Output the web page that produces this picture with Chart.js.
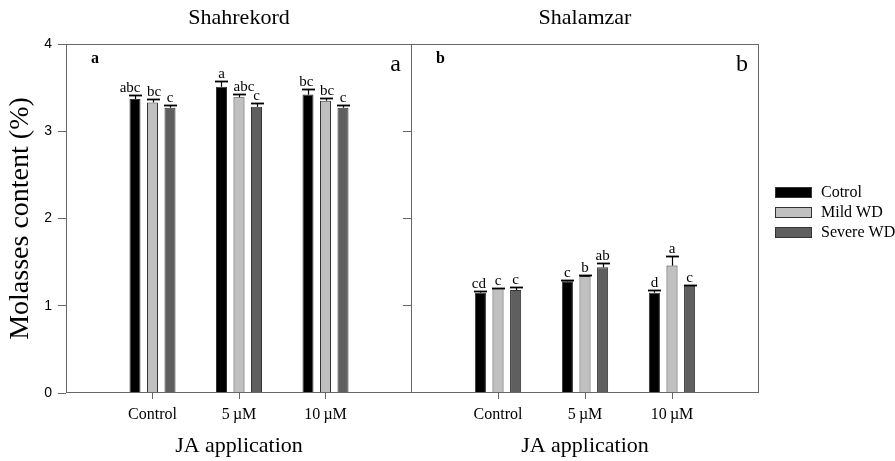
<!DOCTYPE html>
<html>
<head>
<meta charset="utf-8">
<script src="https://cdn.jsdelivr.net/npm/chart.js@4/dist/chart.umd.min.js"></script>
<style>
  html, body { margin: 0; padding: 0; background: #ffffff; }
  #wrap { position: relative; width: 895px; height: 461px; overflow: hidden; background: #ffffff; }
  #leftChart { position: absolute; left: 0; top: 0; }
  #rightChart { position: absolute; left: 399px; top: 0; }
</style>
</head>
<body>
<div id="wrap">
  <canvas id="leftChart" width="412" height="461"></canvas>
  <canvas id="rightChart" width="496" height="461"></canvas>
</div>
<script>
// Treatments on the x axis and the three water-deficit series
const treatments = ['Control', '5\u2009\u00b5M', '10\u2009\u00b5M'];
const seriesNames = ['Cotrol', 'Mild WD', 'Severe WD'];
const seriesColors = ['#000000', '#c0c0c0', '#5f5f5f'];
const yTickValues = [0, 1, 2, 3, 4];

// Shahrekord: mean molasses content (%) and standard error
const shahrekordCotrol = [3.37, 3.51, 3.42];
const shahrekordMild = [3.33, 3.39, 3.35];
const shahrekordSevere = [3.27, 3.28, 3.27];
const shahrekordCotrolSE = [0.04, 0.07, 0.06];
const shahrekordMildSE = [0.04, 0.04, 0.03];
const shahrekordSevereSE = [0.03, 0.04, 0.03];
const shahrekordCotrolLetters = ['abc', 'a', 'bc'];
const shahrekordMildLetters = ['bc', 'abc', 'bc'];
const shahrekordSevereLetters = ['c', 'c', 'c'];

// Shalamzar: mean molasses content (%) and standard error
const shalamzarCotrol = [1.15, 1.28, 1.15];
const shalamzarMild = [1.20, 1.34, 1.46];
const shalamzarSevere = [1.18, 1.44, 1.23];
const shalamzarCotrolSE = [0.02, 0.02, 0.03];
const shalamzarMildSE = [0.005, 0.015, 0.11];
const shalamzarSevereSE = [0.035, 0.045, 0.012];
const shalamzarCotrolLetters = ['cd', 'c', 'd'];
const shalamzarMildLetters = ['c', 'b', 'a'];
const shalamzarSevereLetters = ['c', 'ab', 'c'];

const SERIF = '"Liberation Serif", "Times New Roman", serif';
const SANS = '"Liberation Sans", Arial, sans-serif';
const AXIS_GRAY = '#666666';

Chart.defaults.font.family = SERIF;
Chart.defaults.color = '#000000';

// Blank slots at both ends place the three groups at 1/4, 1/2 and 3/4 of the panel
const pad = arr => [null, ...arr, null];
const axisLabels = pad(treatments).map(v => v === null ? '' : v);

function makeDatasets(values, errors, letters) {
  return values.map((vals, i) => ({
    label: seriesNames[i],
    data: pad(vals),
    err: pad(errors[i]),
    letters: pad(letters[i]),
    backgroundColor: seriesColors[i],
    borderColor: '#333333',
    borderWidth: 1,
    categoryPercentage: 0.607,
    barPercentage: 0.63
  }));
}

// Error whiskers (upward) with significance letters above them.
// Letters wider than their bar hang off the outer edge so neighbours don't collide.
const errorBarPlugin = {
  id: 'errorBars',
  afterDatasetsDraw(chart) {
    const ctx = chart.ctx;
    const yScale = chart.scales.y;
    const nSets = chart.data.datasets.length;
    chart.data.datasets.forEach((ds, di) => {
      const meta = chart.getDatasetMeta(di);
      meta.data.forEach((bar, i) => {
        const v = ds.data[i];
        if (v === null || v === undefined) return;
        const yTop = Math.round(yScale.getPixelForValue(v + ds.err[i])) + 0.5;
        const x = Math.round(bar.x) + 0.5;
        ctx.save();
        ctx.strokeStyle = '#000000';
        ctx.lineWidth = 1.2;
        ctx.beginPath();
        ctx.moveTo(x, bar.y);
        ctx.lineTo(x, yTop);
        ctx.stroke();
        ctx.lineWidth = 1.8;
        ctx.beginPath();
        ctx.moveTo(x - 6.5, yTop);
        ctx.lineTo(x + 6.5, yTop);
        ctx.stroke();

        ctx.font = '15px ' + SERIF;
        ctx.fillStyle = '#000000';
        ctx.textBaseline = 'alphabetic';
        const text = ds.letters[i];
        const w = ctx.measureText(text).width;
        const half = bar.width / 2;
        let tx = bar.x;
        ctx.textAlign = 'center';
        if (w > bar.width && di === 0) {
          ctx.textAlign = 'right';
          tx = bar.x + half;
        } else if (w > bar.width && di > 0 && di < nSets - 1) {
          ctx.textAlign = 'left';
          tx = bar.x - half;
        }
        ctx.fillText(text, tx, yTop - 4);
        ctx.restore();
      });
    });
  }
};

// Panel frame and the panel tags
const framePlugin = {
  id: 'panelFrame',
  afterDraw(chart, args, opts) {
    const ctx = chart.ctx;
    const { left, top, right, bottom } = chart.chartArea;
    ctx.save();
    ctx.strokeStyle = AXIS_GRAY;
    ctx.lineWidth = 1;
    ctx.strokeRect(left + 0.5, top + 0.5, right - left - 1, bottom - top - 1);
    ctx.fillStyle = '#000000';
    ctx.textBaseline = 'middle';
    ctx.font = 'bold 16px ' + SERIF;
    ctx.textAlign = 'left';
    ctx.fillText(opts.tag, left + 25, top + 15);
    ctx.font = '24px ' + SERIF;
    ctx.textAlign = 'right';
    ctx.fillText(opts.tag, right - 11, top + 21);
    ctx.restore();
  }
};

// Series key beside the right panel
const keyPlugin = {
  id: 'seriesKey',
  afterDraw(chart, args, opts) {
    if (!opts.show) return;
    const ctx = chart.ctx;
    ctx.save();
    chart.data.datasets.forEach((ds, i) => {
      const y = opts.y + i * 20;
      ctx.fillStyle = ds.backgroundColor;
      ctx.fillRect(opts.x, y, 37, 11);
      ctx.strokeStyle = '#333333';
      ctx.lineWidth = 1;
      ctx.strokeRect(opts.x + 0.5, y + 0.5, 36, 10);
      ctx.fillStyle = '#000000';
      ctx.font = '16px ' + SERIF;
      ctx.textAlign = 'left';
      ctx.textBaseline = 'middle';
      ctx.fillText(ds.label, opts.x + 46, y + 5.5);
    });
    ctx.restore();
  }
};

function panelConfig(title, datasets, tag, isLeft, paddingRight, key) {
  return {
    type: 'bar',
    data: { labels: axisLabels, datasets },
    plugins: [errorBarPlugin, framePlugin, keyPlugin],
    options: {
      responsive: false,
      animation: false,
      events: [],
      layout: { padding: { left: 0, right: paddingRight, top: 0, bottom: 0 } },
      plugins: {
        legend: { display: false },
        tooltip: { enabled: false },
        title: {
          display: true,
          text: title,
          fullSize: false,
          color: '#000000',
          font: { family: SERIF, size: 22, weight: 'normal', lineHeight: 1.2 },
          padding: { top: 5, bottom: 12.6 }
        },
        panelFrame: { tag },
        seriesKey: key
      },
      scales: {
        x: {
          type: 'category',
          offset: false,
          grid: {
            offset: false,
            drawOnChartArea: false,
            drawTicks: true,
            tickLength: 6,
            tickColor: c => (c.index >= 1 && c.index <= treatments.length) ? AXIS_GRAY : 'rgba(0,0,0,0)'
          },
          border: { display: false },
          ticks: {
            autoSkip: false,
            maxRotation: 0,
            padding: 6,
            color: '#000000',
            font: { family: SERIF, size: 16 }
          },
          title: {
            display: true,
            text: 'JA application',
            color: '#000000',
            font: { family: SERIF, size: 22 },
            padding: { top: 0, bottom: 2 }
          },
          afterFit: s => {
            s.height = 68;
            s.paddingLeft = 0;
            s.paddingRight = 0;
          }
        },
        y: {
          type: 'linear',
          min: yTickValues[0],
          max: yTickValues[yTickValues.length - 1],
          afterBuildTicks: s => { s.ticks = yTickValues.map(v => ({ value: v })); },
          grid: {
            drawOnChartArea: false,
            drawTicks: true,
            tickLength: 8,
            tickColor: c => {
              if (isLeft) return AXIS_GRAY;
              const v = c.tick ? c.tick.value : -1;
              return (v > yTickValues[0] && v < yTickValues[yTickValues.length - 1]) ? AXIS_GRAY : 'rgba(0,0,0,0)';
            }
          },
          border: { display: false },
          ticks: {
            display: isLeft,
            padding: 6,
            color: '#000000',
            font: { family: SANS, size: 14 }
          },
          title: {
            display: isLeft,
            text: 'Molasses content (%)',
            color: '#000000',
            font: { family: SERIF, size: 28 },
            padding: { top: 4, bottom: 0 }
          },
          afterFit: s => {
            s.width = isLeft ? 66 : 12;
            s.paddingTop = 0;
            s.paddingBottom = 0;
          }
        }
      }
    }
  };
}

new Chart(document.getElementById('leftChart'), panelConfig(
  'Shahrekord',
  makeDatasets(
    [shahrekordCotrol, shahrekordMild, shahrekordSevere],
    [shahrekordCotrolSE, shahrekordMildSE, shahrekordSevereSE],
    [shahrekordCotrolLetters, shahrekordMildLetters, shahrekordSevereLetters]
  ),
  'a', true, 0, { show: false }
));

new Chart(document.getElementById('rightChart'), panelConfig(
  'Shalamzar',
  makeDatasets(
    [shalamzarCotrol, shalamzarMild, shalamzarSevere],
    [shalamzarCotrolSE, shalamzarMildSE, shalamzarSevereSE],
    [shalamzarCotrolLetters, shalamzarMildLetters, shalamzarSevereLetters]
  ),
  'b', false, 136, { show: true, x: 376, y: 187 }
));
</script>
</body>
</html>
